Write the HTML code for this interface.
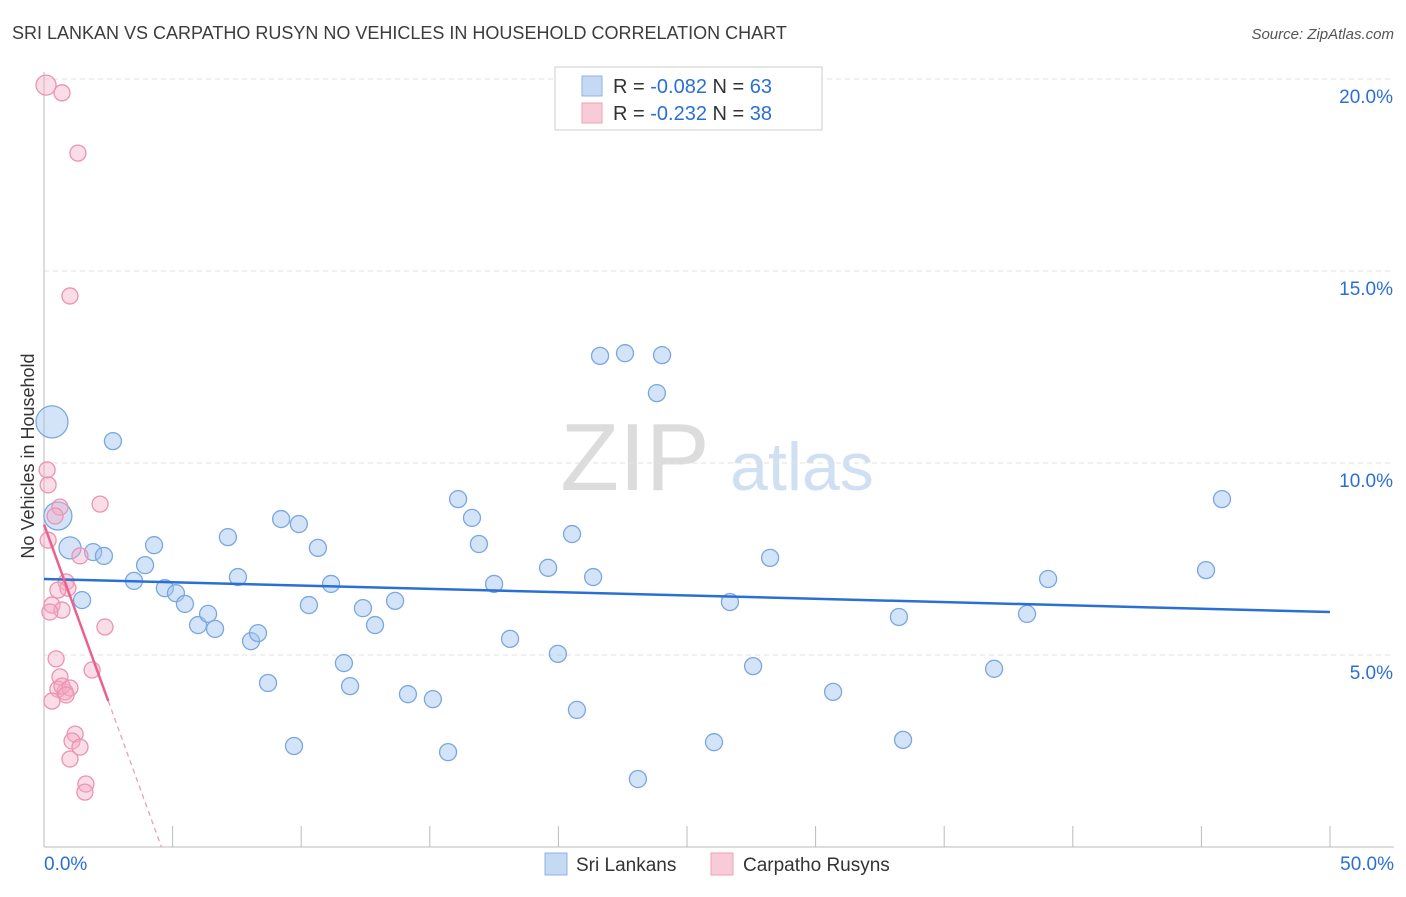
<!DOCTYPE html>
<html><head><meta charset="utf-8"><style>
body{margin:0;background:#fff;font-family:"Liberation Sans",sans-serif;}
svg text{font-family:"Liberation Sans",sans-serif;}
</style></head><body>
<svg id="chart" width="1406" height="892" viewBox="0 0 1406 892" xmlns="http://www.w3.org/2000/svg">
<text x="12" y="39" font-size="18" fill="#3c3c3c">SRI LANKAN VS CARPATHO RUSYN NO VEHICLES IN HOUSEHOLD CORRELATION CHART</text>
<text x="1394" y="39" font-size="15" fill="#555" font-style="italic" text-anchor="end">Source: ZipAtlas.com</text>
<g>
<text x="635" y="490" font-size="96" fill="#dcdcdc" font-family="Liberation Serif,serif" text-anchor="middle">ZIP</text>
<text x="802" y="490" font-size="68" fill="#cfe0f3" text-anchor="middle">atlas</text>
</g>
<g id="grid"></g>
<g id="axes"></g>
<g id="pts"></g>
<g id="trend"></g>
<text transform="translate(34,456) rotate(-90)" font-size="18" fill="#333" text-anchor="middle">No Vehicles in Household</text>
<g>
<rect x="555" y="67" width="267" height="63" fill="#fff" stroke="#ccc"/>
<rect x="582" y="76" width="20" height="20" fill="#c5d9f3" stroke="#8fb3e3"/>
<rect x="582" y="103" width="20" height="20" fill="#f9cbd8" stroke="#eda3b9"/>
<text x="613" y="93" font-size="20" fill="#333">R = <tspan fill="#2a6fd6">-0.082</tspan>   N = <tspan fill="#2a6fd6">63</tspan></text>
<text x="613" y="120" font-size="20" fill="#333">R =  <tspan fill="#2a6fd6">-0.232</tspan>   N = <tspan fill="#2a6fd6">38</tspan></text>
</g>
<g>
<rect x="545" y="853" width="22" height="22" fill="#c5d9f3" stroke="#8fb3e3"/>
<text x="576" y="871" font-size="19" fill="#333">Sri Lankans</text>
<rect x="711" y="853" width="22" height="22" fill="#f9cbd8" stroke="#eda3b9"/>
<text x="743" y="871" font-size="19" fill="#333">Carpatho Rusyns</text>
</g>
</svg>
<script>
const blueX=[0.31,0.54,1.01,1.48,1.91,2.33,2.68,3.5,3.93,4.28,4.70,5.13,5.48,5.99,6.38,6.65,7.15,7.54,8.05,8.32,8.71,9.22,9.72,9.91,10.30,10.65,11.16,11.66,11.90,12.40,12.87,13.65,14.15,15.12,15.71,16.10,16.64,16.91,17.50,18.12,19.60,19.98,20.53,20.72,21.35,21.62,22.59,23.09,23.83,24.03,26.05,26.67,27.57,28.23,30.68,33.24,33.40,36.94,38.22,39.04,45.18,45.80];
const blueY=[11.07,8.62,7.79,6.43,7.68,7.58,10.57,6.93,7.34,7.86,6.74,6.61,6.33,5.78,6.07,5.68,8.07,7.03,5.36,5.57,4.27,8.54,2.63,8.41,6.30,7.79,6.85,4.79,4.19,6.22,5.78,6.41,3.98,3.85,2.47,9.06,8.57,7.89,6.85,5.42,7.27,5.03,8.15,3.57,7.03,12.79,12.86,1.77,11.82,12.81,2.73,6.38,4.71,7.53,4.04,5.99,2.79,4.64,6.07,6.98,7.21,9.06];
const pinkX=[0.08,0.70,1.32,1.01,0.12,0.16,0.62,2.18,0.43,0.16,1.40,0.86,0.93,0.54,0.31,0.70,0.23,2.37,1.87,0.47,0.62,0.54,0.82,0.70,1.01,0.86,0.31,1.21,1.09,1.40,1.01,1.63,1.59];
const pinkY=[19.84,19.64,18.07,14.35,9.82,9.43,8.85,8.93,8.62,7.99,7.58,6.90,6.74,6.69,6.30,6.17,6.12,5.73,4.61,4.90,4.43,4.11,4.04,4.19,4.14,3.96,3.80,2.94,2.76,2.60,2.29,1.64,1.43];
const yTicks=[5,10,15,20];
const xTickVals=[0,5,10,15,20,25,30,35,40,45,50];
const blueTrend=[6.98,6.12];
const pinkTrend=[8.4,-1.84];
const NS='http://www.w3.org/2000/svg';
const X=v=>44+v*25.72, Y=v=>847-v*38.4;
function mk(tag,attrs,parent){const e=document.createElementNS(NS,tag);for(const k in attrs)e.setAttribute(k,attrs[k]);document.getElementById(parent).appendChild(e);return e;}
yTicks.forEach(t=>{
 const l=mk('line',{x1:44,x2:1394,y1:Y(t),y2:Y(t),stroke:'#e2e2e2','stroke-dasharray':'5,4'},'grid');
 
 
 const tx=mk('text',{x:1393,y:Y(t)+24,'font-size':19,fill:'#2a6fd6','text-anchor':'end'},'grid');
 tx.textContent=t.toFixed(1)+'%';
 
 
});
mk('line',{x1:44,x2:44,y1:72,y2:847,stroke:'#bbb'},'axes');
mk('line',{x1:44,x2:1394,y1:847,y2:847,stroke:'#bbb'},'axes');
xTickVals.forEach(t=>{if(t>0){const l=mk('line',{x1:X(t),x2:X(t),y1:826,y2:847,stroke:'#bbb'},'axes');
 
 }});
const x0=mk('text',{x:44,y:870,'font-size':19,fill:'#2a6fd6'},'axes');x0.textContent='0.0%';


const x1=mk('text',{x:1394,y:870,'font-size':19,fill:'#2a6fd6','text-anchor':'end'},'axes');x1.textContent='50.0%';


blueX.forEach((v,i)=>{const r=i==0?16:(i==1?14:(i==2?11:8.5));
 const c=mk('circle',{cx:X(v),cy:Y(blueY[i]),r:r,fill:'rgba(160,195,240,0.45)',stroke:'#7aa7e0','stroke-width':1.3},'pts');
 
 });
pinkX.forEach((v,i)=>{const r=i==0?10:8;
 const c=mk('circle',{cx:X(v),cy:Y(pinkY[i]),r:r,fill:'rgba(245,170,195,0.4)',stroke:'#eb93b0','stroke-width':1.3},'pts');
 
 });
const bl=mk('line',{x1:X(0),y1:Y(blueTrend[0]),x2:X(50),y2:Y(blueTrend[1]),stroke:'#2a6fd6','stroke-width':2.5},'trend');


const pe=2.5, pz=-pinkTrend[0]/pinkTrend[1];
const pl=mk('line',{x1:X(0),y1:Y(pinkTrend[0]),x2:X(pe),y2:Y(pinkTrend[0]+pinkTrend[1]*pe),stroke:'#e8628e','stroke-width':2.5},'trend');


const pd=mk('line',{x1:X(pe),y1:Y(pinkTrend[0]+pinkTrend[1]*pe),x2:X(pz),y2:Y(0),stroke:'#e8a0b8','stroke-width':1.3,'stroke-dasharray':'5,4'},'trend');


</script>
</body></html>
